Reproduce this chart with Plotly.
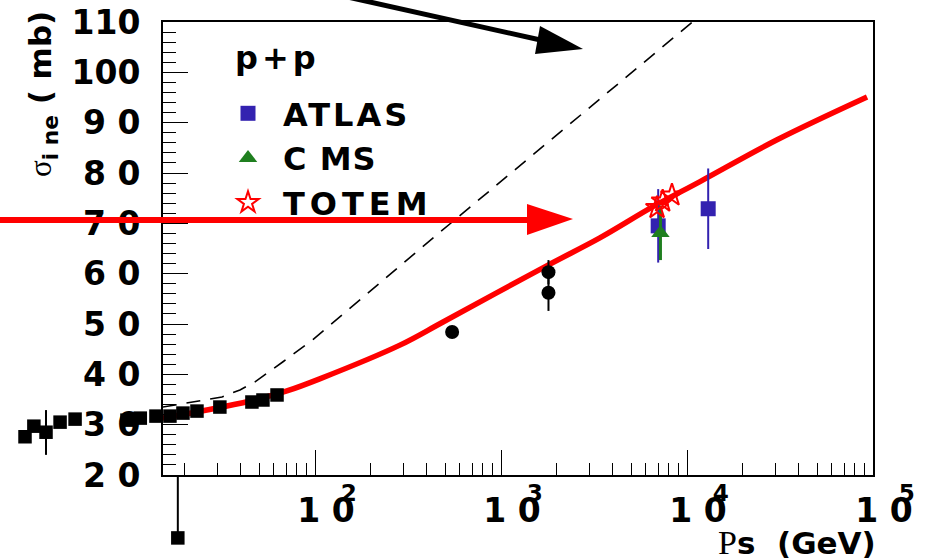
import math
import plotly.graph_objects as go

W, H = 932, 559
# frame of the axes in pixels (left, right, top, bottom)
FL, FR, FT, FB = 163, 873, 22, 475

# ---------------- data ----------------
# low-energy p+p data (black squares)
lowE_x = [2.76, 3.08, 3.58, 4.26, 5.13, 9.75, 11.5, 13.96, 16.6, 18.3, 19.5, 23.2, 30.8, 45.8, 52.5, 62.5]
lowE_y = [27.6, 29.7, 28.5, 30.5, 31.1, 30.9, 31.3, 31.7, 31.7, 7.5, 32.3, 32.7, 33.5, 34.5, 34.9, 35.9]
lowE_err_up = [0, 0, 4.4, 0, 0, 0, 0, 0, 0, 12.5, 0, 0, 0, 0, 0, 0]
lowE_err_dn = [0, 0, 4.5, 0, 0, 0, 0, 0, 0, 0, 0, 0, 0, 0, 0, 0]

# collider data (black circles)
coll_x = [546, 1800, 1800]
coll_y = [48.4, 60.3, 56.2]
coll_err = [0.5, 2.4, 3.6]

# LHC
atlas_x = [7000, 13000]
atlas_y = [69.5, 72.9]
atlas_err = [7.3, 8.0]
cms_x = [7200]
cms_y = [68.1]
cms_err = [5.4]
totem_x = [6900, 7400, 8300]
totem_y = [73.1, 74.4, 75.6]

# model curves
model_x = [15.2, 26.2, 44.8, 70.6, 106, 286, 488, 1790, 3400, 6560, 11750, 30500, 92900]
model_y = [31.3, 32.9, 34.7, 36.7, 39.1, 45.8, 50.4, 61.7, 67.1, 73.3, 78.3, 86.6, 95.1]
dash_x = [15.2, 24.7, 31.6, 39.5, 47.6, 67.3, 97.5, 441, 873, 3404, 6560, 10770, 15030]
dash_y = [33.5, 34.9, 35.5, 36.9, 38.5, 42.5, 46.9, 67.4, 76.5, 94.8, 103.4, 110.1, 115.5]

# axes
x_tick_vals = [1e2, 1e3, 1e4, 1e5]
x_tick_exp = ["2", "3", "4", "5"]
y_tick_vals = [20, 30, 40, 50, 60, 70, 80, 90, 100, 110]
y_tick_text = ["2 0", "3 0", "4 0", "5 0", "6 0", "7 0", "8 0", "9 0", "100", "110"]
legend_names = ["ATLAS", "C MS", "TOTEM"]

# ---------------- axis ranges ----------------
XLO, XHI = 1.1828, 5.0
YLO, YHI = 20, 110
xs = (XHI - XLO) / (FR - FL)
ys = (YHI - YLO) / (FB - FT)
x2_range = [XLO - FL * xs, XHI + (W - FR) * xs]
y2_range = [YLO - (H - FB) * ys, YHI + FT * ys]

FONT = "DejaVu Sans"
BLUE = "#3322b0"
GREEN = "#1f7f1f"
RED = "#ff0000"

minor_x = [m * 10 ** d for d in range(1, 5) for m in range(2, 10) if m * 10 ** d > 10 ** XLO]

fig = go.Figure()

# curves (clipped to the frame)
fig.add_trace(go.Scatter(x=dash_x, y=dash_y, mode="lines", showlegend=False,
                         line=dict(color="black", width=1.6, dash="14px,10px"),
                         xaxis="x", yaxis="y"))
fig.add_trace(go.Scatter(x=model_x, y=model_y, mode="lines", showlegend=False,
                         line=dict(color=RED, width=5.5, shape="spline"),
                         xaxis="x", yaxis="y"))

# points (drawn on an unclipped full-figure layer)
fig.add_trace(go.Scatter(x=lowE_x, y=lowE_y, mode="markers", showlegend=False,
                         marker=dict(symbol="square", size=13.5, color="black"),
                         error_y=dict(type="data", symmetric=False, array=lowE_err_up,
                                      arrayminus=lowE_err_dn, width=0, thickness=2, color="black"),
                         xaxis="x2", yaxis="y2"))
fig.add_trace(go.Scatter(x=coll_x, y=coll_y, mode="markers", showlegend=False,
                         marker=dict(symbol="circle", size=14, color="black"),
                         error_y=dict(type="data", array=coll_err, width=0, thickness=2, color="black"),
                         xaxis="x2", yaxis="y2"))
fig.add_trace(go.Scatter(x=atlas_x, y=atlas_y, mode="markers", name=legend_names[0],
                         marker=dict(symbol="square", size=15, color=BLUE),
                         error_y=dict(type="data", array=atlas_err, width=0, thickness=2, color=BLUE),
                         xaxis="x2", yaxis="y2"))
fig.add_trace(go.Scatter(x=cms_x, y=cms_y, mode="markers", name=legend_names[1],
                         marker=dict(symbol="triangle-up", size=16, color=GREEN),
                         error_y=dict(type="data", array=cms_err, width=0, thickness=3, color=GREEN),
                         xaxis="x2", yaxis="y2"))
fig.add_trace(go.Scatter(x=totem_x, y=totem_y, mode="markers", name=legend_names[2],
                         marker=dict(symbol="star-open", size=17, color=RED, line=dict(width=2, color=RED)),
                         xaxis="x2", yaxis="y2"))

# legend text spacing
spacing = {"ATLAS": 3, "C MS": 1, "TOTEM": 5}
for tr in fig.data:
    if tr.name in spacing:
        tr.name = f"<span style='letter-spacing:{spacing[tr.name]}px'>{tr.name}</span>"

x_tick_text = [f"1 <span style='letter-spacing:-14px'>0</span><sup><span style='baseline-shift:7px'>{e}</span></sup>"
               for e in x_tick_exp]

axis_common = dict(showline=True, linewidth=2, linecolor="black", mirror=True,
                   ticks="inside", ticklen=25, tickwidth=1, tickcolor="black",
                   showgrid=False, zeroline=False, automargin=False,
                   tickfont=dict(family=FONT, size=33, color="black", weight="bold"))

fig.update_layout(
    width=W, height=H,
    margin=dict(l=0, r=0, t=0, b=0),
    paper_bgcolor="white", plot_bgcolor="rgba(0,0,0,0)",
    xaxis=dict(type="log", range=[XLO, XHI], domain=[FL / W, FR / W], anchor="y",
               tickvals=x_tick_vals, ticktext=x_tick_text, tickangle=0,
               ticklabelshift=12, ticklabelstandoff=5,
               minor=dict(tickvals=minor_x, ticks="inside", ticklen=12, tickwidth=1, tickcolor="black"),
               **axis_common),
    yaxis=dict(range=[YLO, YHI], domain=[1 - FB / H, 1 - FT / H], anchor="x",
               tickvals=y_tick_vals, ticktext=y_tick_text, ticklabelstandoff=14,
               minor=dict(dtick=2, ticks="inside", ticklen=13, tickwidth=1, tickcolor="black"),
               **axis_common),
    xaxis2=dict(type="log", range=x2_range, domain=[0, 1], anchor="y2", visible=False),
    yaxis2=dict(range=y2_range, domain=[0, 1], anchor="x2", visible=False),
    showlegend=True,
    legend=dict(x=213 / W, y=1 - 86 / H, xanchor="left", yanchor="top",
                bgcolor="rgba(0,0,0,0)", itemwidth=60, tracegroupgap=0,
                font=dict(family=FONT, size=32, color="black", weight="bold")),
)

def px(x):
    return x / W

def py(y):
    return 1 - y / H

# arrows
fig.add_shape(type="line", xref="paper", yref="paper", x0=px(0), y0=py(220), x1=px(535), y1=py(220),
              line=dict(color=RED, width=6))
fig.add_shape(type="path", xref="paper", yref="paper",
              path=f"M{px(573)},{py(219)} L{px(527)},{py(204)} L{px(527)},{py(235)} Z",
              fillcolor=RED, line=dict(color=RED, width=0))
fig.add_shape(type="line", xref="paper", yref="paper", x0=px(325), y0=py(-8), x1=px(545), y1=py(41),
              line=dict(color="black", width=5))
fig.add_shape(type="path", xref="paper", yref="paper",
              path=f"M{px(583)},{py(49)} L{px(540)},{py(26)} L{px(535)},{py(54)} Z",
              fillcolor="black", line=dict(color="black", width=0))

# texts
fig.add_annotation(xref="paper", yref="paper", x=px(233), y=py(58), xanchor="left", yanchor="middle",
                   text="<span style='letter-spacing:4px'>p+p</span>", showarrow=False,
                   font=dict(family=FONT, size=32, color="black", weight="bold"))
fig.add_annotation(xref="paper", yref="paper", x=px(42), y=py(94), xanchor="center", yanchor="middle",
                   textangle=-90, showarrow=False,
                   text="<span style='font-family:Liberation Serif;font-weight:normal'>σ</span><sub>i ne</sub> ( mb)",
                   font=dict(family=FONT, size=31, color="black", weight="bold"))
fig.add_annotation(xref="paper", yref="paper", x=px(878), y=py(542), xanchor="right", yanchor="middle",
                   showarrow=False,
                   text="<span style='font-family:Liberation Serif;font-weight:normal;font-size:34px'>P</span>s\u00a0\u00a0(GeV)",
                   font=dict(family=FONT, size=31, color="black", weight="bold"))

fig.write_html("out.html")
